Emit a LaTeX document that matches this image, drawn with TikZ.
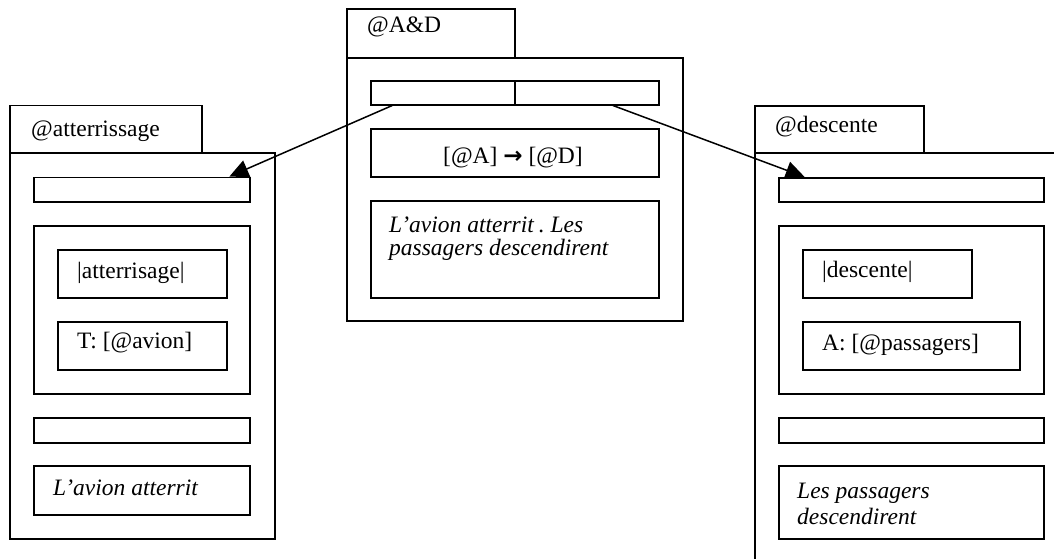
\documentclass[tikz,border=0pt]{standalone}
\usepackage{fontspec}
\setmainfont{Liberation Serif}
\newfontfamily\arrowfont{DejaVu Sans}
\usetikzlibrary{arrows.meta,calc}
\frenchspacing
\tikzset{
  box/.style={draw, line width=1.5pt, inner sep=0pt, anchor=north west},
  lbl/.style={anchor=base west, inner sep=0pt, font=\fontsize{23.5}{23}\selectfont},
  ilbl/.style={lbl, font=\fontsize{23.5}{23}\selectfont\itshape},
  conn/.style={line width=1.5pt, -{Triangle[length=19pt,width=18pt]}}
}
\begin{document}
\begin{tikzpicture}[x=1pt,y=-1pt]
\useasboundingbox (0,0) rectangle (1054,558);
\clip (0,0) rectangle (1054,558);
% left package
\node[box, minimum width=192pt, minimum height=47.5pt] (LT) at (9,104.5) {};
\node[box, minimum width=265pt, minimum height=386pt] (LB) at (9,152) {};
\node[box, minimum width=216pt, minimum height=24.5pt] (L1) at (33,176.5) {};
\node[box, minimum width=216pt, minimum height=168pt] (L2) at (33,225) {};
\node[box, minimum width=169pt, minimum height=48pt] (L21) at (57,249) {};
\node[box, minimum width=169pt, minimum height=48pt] (L22) at (57,321) {};
\node[box, minimum width=216pt, minimum height=25pt] (L3) at (33,417) {};
\node[box, minimum width=216pt, minimum height=49pt] (L4) at (33,465) {};
% centre package
\node[box, minimum width=168pt, minimum height=49pt] (CT) at (346,8) {};
\node[box, minimum width=336pt, minimum height=263pt] (CB) at (346,57) {};
\node[box, minimum width=144pt, minimum height=24pt] (CbarL) at (370,80) {};
\node[box, minimum width=144pt, minimum height=24pt] (CbarR) at (514,80) {};
\node[box, minimum width=288pt, minimum height=48pt] (C2) at (370,128) {};
\node[box, minimum width=288pt, minimum height=97pt] (C3) at (370,200) {};
% right package
\node[box, minimum width=169pt, minimum height=47pt] (RT) at (754,105) {};
\node[box, minimum width=330pt, minimum height=440pt] (RB) at (754,152) {};
\node[box, minimum width=265pt, minimum height=24pt] (R1) at (778,177) {};
\node[box, minimum width=265pt, minimum height=168pt] (R2) at (778,225) {};
\node[box, minimum width=169pt, minimum height=48pt] (R21) at (802,249) {};
\node[box, minimum width=217pt, minimum height=48pt] (R22) at (802,321) {};
\node[box, minimum width=265pt, minimum height=25pt] (R3) at (778,417) {};
\node[box, minimum width=265pt, minimum height=73pt] (R4) at (778,465) {};
% texts
\node[lbl] (tLT) at (31,136) {@atterrissage};
\node[lbl] (tL21) at (77,278) {|atterrisage|};
\node[lbl] (tL22) at (77,348) {T: [@avion]};
\node[ilbl] (tL4) at (53,495) {L’avion atterrit};
\node[lbl] (tCT) at (367,32) {@A\&D};
\node[lbl, anchor=base] (tC2) at (513,163) {[@A] {\arrowfont\bfseries\fontsize{23}{23}\selectfont →} [@D]};
\node[ilbl] (tC3a) at (389,232) {L’avion atterrit\hspace{5pt}. Les};
\node[ilbl] (tC3b) at (389,255) {passagers descendirent};
\node[lbl] (tRT) at (775,132) {@descente};
\node[lbl] (tR21) at (822,277) {|descente|};
\node[lbl] (tR22) at (822,350) {A: [@passagers]};
\node[ilbl] (tR4a) at (797,498) {Les passagers};
\node[ilbl] (tR4b) at (797,524) {descendirent};
% connectors
\draw[conn] ($(CbarL.south west)!0.153!(CbarL.south east)$) -- ($(L1.north west)!0.903!(L1.north east)$);
\draw[conn] ($(CbarR.south west)!0.68!(CbarR.south east)$) -- ($(R1.north west)!0.10!(R1.north east)$);
\end{tikzpicture}
\end{document}
